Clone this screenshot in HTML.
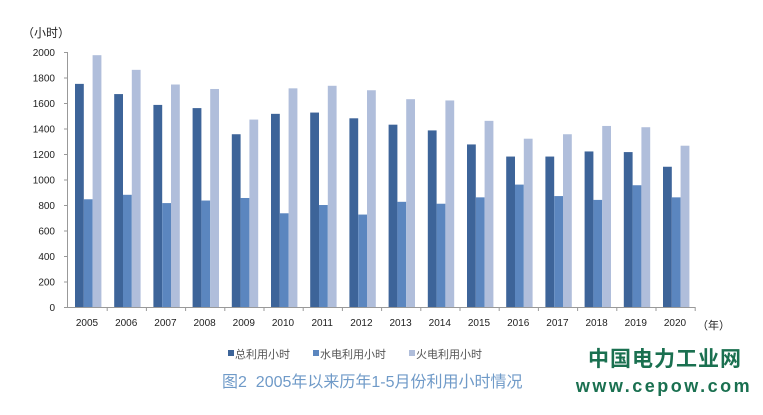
<!DOCTYPE html>
<html><head><meta charset="utf-8"><style>
body{margin:0;background:#fff;width:763px;height:415px;overflow:hidden}
svg{display:block;font-family:"Liberation Sans","Noto Sans CJK SC",sans-serif}
</style></head><body>
<svg width="763" height="415" viewBox="0 0 763 415" xmlns="http://www.w3.org/2000/svg">
<g id="g"></g>
<text x="22" y="37" font-size="12" fill="#222">（小时）</text>
<g font-size="10" fill="#222" text-anchor="end" id="yl"></g>
<line x1="67.5" y1="52" x2="67.5" y2="307" stroke="#999"/>
<line x1="67" y1="307.5" x2="695" y2="307.5" stroke="#999"/>
<text x="697" y="329" font-size="11" fill="#222">（年）</text>
<g font-size="11" fill="#555">
<rect x="228" y="350" width="6" height="6" fill="#3d6499"/><text x="235" y="358">总利用小时</text>
<rect x="313" y="350" width="6" height="6" fill="#5b86bf"/><text x="320" y="358">水电利用小时</text>
<rect x="409" y="350" width="6" height="6" fill="#b0bedb"/><text x="416" y="358">火电利用小时</text>
</g>
<text x="222" y="387" font-size="16" fill="#6f9ac8">图2&#160;&#160;2005年以来历年1-5月份利用小时情况</text>
<text x="665" y="366" font-size="21" font-weight="bold" fill="#1a7050" text-anchor="middle" letter-spacing="1">中国电力工业网</text>
<text x="664" y="392" font-size="18" font-weight="bold" fill="#1a7050" text-anchor="middle" letter-spacing="2.5">www.cepow.com</text>
</svg>
<script>
const T=[1750,1670,1585,1560,1355,1515,1525,1480,1430,1385,1275,1180,1180,1220,1215,1100];
const H=[845,880,815,835,855,735,800,725,825,810,860,960,870,840,955,860];
const F=[1975,1860,1745,1710,1470,1715,1735,1700,1630,1620,1460,1320,1355,1420,1410,1265];
const ns="http://www.w3.org/2000/svg",g=document.getElementById('g'),yl=document.getElementById('yl');
function el(t,a,p,txt){const e=document.createElementNS(ns,t);for(const k in a)e.setAttribute(k,a[k]);if(txt)e.textContent=txt;p.appendChild(e);return e;}
const y=v=>307-v*0.1275;
for(let v=0;v<=2000;v+=200){el('text',{x:55,y:y(v)+4},yl,String(v));el('line',{x1:64,x2:68,y1:y(v)+.5,y2:y(v)+.5,stroke:'#999'},g);}
for(let i=0;i<16;i++){
 const x0=68+i*39.2;
 el('rect',{x:x0+7,y:y(T[i]),width:8.8,height:T[i]*0.1275,fill:'#3d6499'},g);
 el('rect',{x:x0+15.8,y:y(H[i]),width:8.8,height:H[i]*0.1275,fill:'#5b86bf'},g);
 el('rect',{x:x0+24.6,y:y(F[i]),width:8.8,height:F[i]*0.1275,fill:'#b0bedb'},g);
 el('line',{x1:x0+39.2,x2:x0+39.2,y1:307,y2:311,stroke:'#999'},g);
 el('text',{x:x0+19,y:326,'font-size':10,fill:'#222','text-anchor':'middle'},g,String(2005+i));
}
</script>
</body></html>
